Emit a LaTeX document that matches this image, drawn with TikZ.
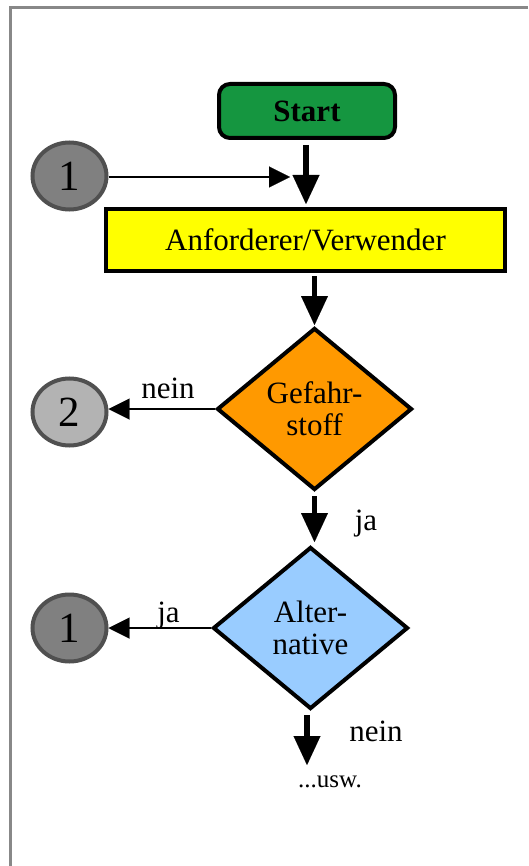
\documentclass[tikz,border=0pt]{standalone}
\usepackage{fontspec}
\setmainfont{Liberation Serif}
\usetikzlibrary{arrows.meta,shapes.geometric}
\definecolor{startgreen}{RGB}{21,150,64}
\definecolor{boxyellow}{RGB}{255,255,0}
\definecolor{decorange}{RGB}{255,153,0}
\definecolor{decblue}{RGB}{153,204,255}
\definecolor{conndark}{RGB}{128,128,128}
\definecolor{connlight}{RGB}{179,179,179}
\definecolor{connborder}{RGB}{80,80,80}
\definecolor{framegray}{RGB}{136,136,136}
\tikzset{
  mainfont/.style={font=\fontsize{31}{32}\selectfont},
  startbox/.style={draw=black, line width=4pt, fill=startgreen, rounded corners=11pt,
    minimum width=176pt, minimum height=54pt, inner sep=0pt,
    font=\fontsize{31}{32}\selectfont\bfseries},
  procbox/.style={draw=black, line width=4pt, fill=boxyellow,
    minimum width=399pt, minimum height=62pt, inner sep=0pt, mainfont},
  decbox/.style={diamond, aspect=1.2, draw=black, line width=4pt, inner sep=0pt,
    minimum width=195pt, minimum height=162pt, align=center, mainfont},
  connector/.style={ellipse, draw=connborder, line width=4pt, inner sep=0pt,
    minimum width=74pt, minimum height=67pt, font=\fontsize{43}{44}\selectfont},
  thickarrow/.style={line width=5.5pt, -{Triangle[length=29pt,width=27pt,line width=0.01pt]}},
  thinarrow/.style={line width=2.5pt, -{Triangle[length=21pt,width=21pt,line width=0.01pt]}},
  lbl/.style={anchor=base, inner sep=0pt, mainfont},
}
\begin{document}
\begin{tikzpicture}[x=1pt,y=-1pt]
\useasboundingbox (0,0) rectangle (528,866);
% frame
\draw[framegray, line width=3pt] (528,8) -- (10.5,8) -- (10.5,866);

% nodes
\node[startbox] (start) at (307,111) {Start};
\node[procbox] (anf) at (305.5,240) {Anforderer/Verwender};
\node[decbox, fill=decorange] (gef) at (314.5,409) {Gefahr-\\stoff};
\node[decbox, fill=decblue] (alt) at (310.5,628) {Alter-\\native};
\node[connector, fill=conndark] (c1a) at (69.5,176) {1};
\node[connector, fill=connlight] (c2) at (69.5,412) {2};
\node[connector, fill=conndark] (c1b) at (69.5,628) {1};
\node[anchor=base, inner sep=0pt, font=\fontsize{25}{26}\selectfont] (usw) at (330,787) {...usw.};

\coordinate (join) at (290,177);
\coordinate (uswin) at (307,765);

% connectors
\draw[thickarrow, shorten <=5pt, shorten >=3pt] (start.south -| 306,0) -- (anf.north -| 306,0);
\draw[thinarrow] (c1a.east |- join) -- (join);
\draw[thickarrow, shorten <=3pt, shorten >=1pt] (anf.south -| gef.north) -- (gef.north);
\draw[thinarrow] (gef.west) -- (c2.east |- gef.west);
\draw[thickarrow, shorten <=4pt, shorten >=3pt] (gef.south) -- (gef.south |- alt.north);
\draw[thinarrow] (alt.west) -- (c1b.east |- alt.west);
\draw[thickarrow, shorten <=4pt] (alt.south -| uswin) -- (uswin);

% labels
\node[lbl] (l1) at (168,398) {nein};
\node[lbl] (l2) at (366,530) {ja};
\node[lbl] (l3) at (168.5,622) {ja};
\node[lbl] (l4) at (376,741) {nein};
\end{tikzpicture}
\end{document}
